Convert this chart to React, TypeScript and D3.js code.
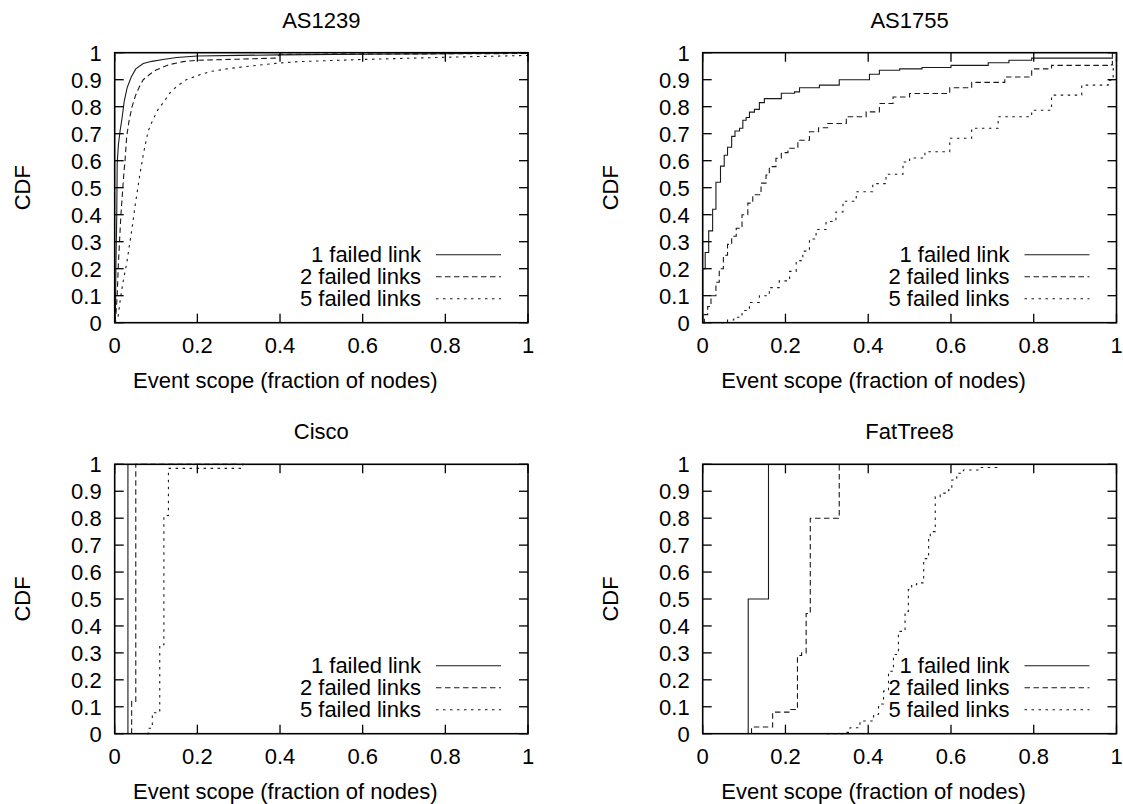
import React from "react";
import * as d3 from "d3";

type Pt = [number, number];

// ---------- data ----------
const panelTitles = ["AS1239", "AS1755", "Cisco", "FatTree8"];
const seriesLabels = ["1 failed link", "2 failed links", "5 failed links"];
const xTicks = [0, 0.2, 0.4, 0.6, 0.8, 1];
const xTickLabels = ["0", "0.2", "0.4", "0.6", "0.8", "1"];
const yTicks = [0, 0.1, 0.2, 0.3, 0.4, 0.5, 0.6, 0.7, 0.8, 0.9, 1];
const yTickLabels = ["0", "0.1", "0.2", "0.3", "0.4", "0.5", "0.6", "0.7", "0.8", "0.9", "1"];

const as1239One: Pt[] = [[0, 0], [0.002, 0.05], [0.003, 0.22], [0.005, 0.4], [0.006, 0.59], [0.009, 0.66], [0.013, 0.71], [0.018, 0.76], [0.023, 0.82], [0.03, 0.87], [0.04, 0.91], [0.051, 0.94], [0.069, 0.96], [0.09, 0.968], [0.117, 0.975], [0.15, 0.982], [0.2, 0.988], [0.3, 0.99], [0.4, 0.992], [0.6, 0.994], [0.8, 0.996], [1, 1]];
const as1239Two: Pt[] = [[0, 0], [0.003, 0.03], [0.006, 0.1], [0.009, 0.22], [0.015, 0.4], [0.022, 0.55], [0.025, 0.6], [0.029, 0.69], [0.035, 0.75], [0.042, 0.8], [0.05, 0.84], [0.06, 0.875], [0.069, 0.9], [0.085, 0.92], [0.1, 0.936], [0.13, 0.955], [0.165, 0.967], [0.2, 0.972], [0.3, 0.976], [0.39, 0.98], [0.4, 0.994], [0.6, 0.995], [1, 0.997]];
const as1239Five: Pt[] = [[0, 0], [0.008, 0.02], [0.013, 0.08], [0.02, 0.15], [0.029, 0.22], [0.035, 0.28], [0.041, 0.34], [0.05, 0.44], [0.061, 0.55], [0.07, 0.63], [0.081, 0.71], [0.092, 0.75], [0.105, 0.79], [0.12, 0.82], [0.133, 0.85], [0.15, 0.875], [0.173, 0.9], [0.2, 0.915], [0.23, 0.93], [0.28, 0.942], [0.326, 0.95], [0.4, 0.962], [0.447, 0.967], [0.6, 0.975], [0.8, 0.983], [1, 0.99]];

const as1755One: Pt[] = [[0, 0], [0, 0.2], [0.006, 0.26], [0.0145, 0.34], [0.024, 0.42], [0.032, 0.52], [0.043, 0.58], [0.052, 0.62], [0.06, 0.65], [0.07, 0.69], [0.078, 0.71], [0.089, 0.72], [0.097, 0.75], [0.105, 0.76], [0.113, 0.78], [0.125, 0.79], [0.137, 0.815], [0.149, 0.83], [0.19, 0.85], [0.222, 0.855], [0.234, 0.87], [0.282, 0.88], [0.33, 0.9], [0.403, 0.92], [0.427, 0.935], [0.476, 0.94], [0.53, 0.945], [0.6, 0.953], [0.69, 0.963], [0.74, 0.972], [0.795, 0.98], [0.99, 1], [1, 1]];
const as1755Two: Pt[] = [[0, 0], [0.004, 0.03], [0.012, 0.06], [0.02, 0.1], [0.032, 0.15], [0.04, 0.2], [0.05, 0.25], [0.06, 0.29], [0.07, 0.32], [0.081, 0.35], [0.095, 0.4], [0.109, 0.443], [0.121, 0.474], [0.141, 0.517], [0.153, 0.547], [0.161, 0.578], [0.177, 0.609], [0.19, 0.63], [0.206, 0.646], [0.23, 0.676], [0.258, 0.707], [0.28, 0.722], [0.302, 0.738], [0.347, 0.763], [0.395, 0.781], [0.427, 0.812], [0.46, 0.836], [0.5, 0.849], [0.597, 0.87], [0.65, 0.89], [0.73, 0.91], [0.795, 0.94], [0.843, 0.953], [0.98, 0.955], [0.99, 0.97], [1, 1]];
const as1755Five: Pt[] = [[0.045, 0], [0.06, 0.01], [0.075, 0.02], [0.095, 0.045], [0.113, 0.075], [0.137, 0.1], [0.161, 0.13], [0.185, 0.155], [0.21, 0.19], [0.226, 0.23], [0.242, 0.265], [0.258, 0.31], [0.274, 0.345], [0.298, 0.375], [0.322, 0.41], [0.339, 0.45], [0.371, 0.485], [0.411, 0.515], [0.443, 0.55], [0.484, 0.595], [0.5, 0.61], [0.537, 0.633], [0.597, 0.683], [0.65, 0.72], [0.714, 0.763], [0.795, 0.787], [0.843, 0.843], [0.916, 0.88], [0.98, 0.898], [0.992, 0.94], [1, 1]];

const ciscoOne: Pt[] = [[0.032, 0], [0.032, 1]];
const ciscoTwo: Pt[] = [[0.041, 0], [0.041, 0.12], [0.051, 1], [0.3, 1]];
const ciscoFive: Pt[] = [[0.078, 0], [0.081, 0.02], [0.091, 0.078], [0.109, 0.33], [0.119, 0.81], [0.13, 0.985], [0.31, 1], [0.32, 1]];

const fatOne: Pt[] = [[0.11, 0], [0.11, 0.5], [0.159, 1]];
const fatTwo: Pt[] = [[0.118, 0], [0.118, 0.025], [0.169, 0.08], [0.211, 0.09], [0.229, 0.29], [0.239, 0.3], [0.25, 0.446], [0.26, 0.8], [0.328, 0.81], [0.33, 1]];
const fatFive: Pt[] = [[0.3, 0], [0.34, 0.005], [0.356, 0.022], [0.38, 0.047], [0.413, 0.072], [0.425, 0.11], [0.437, 0.158], [0.449, 0.232], [0.461, 0.294], [0.473, 0.38], [0.489, 0.454], [0.497, 0.535], [0.505, 0.553], [0.517, 0.56], [0.534, 0.65], [0.546, 0.726], [0.55, 0.75], [0.562, 0.88], [0.574, 0.893], [0.594, 0.905], [0.602, 0.942], [0.614, 0.967], [0.63, 0.979], [0.671, 0.988], [0.711, 1]];

const panelSeries: Pt[][][] = [
  [as1239One, as1239Two, as1239Five],
  [as1755One, as1755Two, as1755Five],
  [ciscoOne, ciscoTwo, ciscoFive],
  [fatOne, fatTwo, fatFive],
];
const panelStep = [false, true, true, true];

// ---------- layout / style ----------
const FONT = "'Liberation Sans', Arial, Helvetica, sans-serif";
const FS = 22;
const frames = [
  { l: 114.7, r: 528, t: 52.7, b: 322.7 },
  { l: 702.7, r: 1116.5, t: 52.7, b: 322.7 },
  { l: 114.7, r: 528, t: 464.3, b: 733.7 },
  { l: 702.7, r: 1116.5, t: 464.3, b: 733.7 },
];
const dashes = [null, "5.5,3.5", "2.5,4.5"];
const TICK = 9;

function Panel({ idx }: { idx: number }) {
  const f = frames[idx];
  const x = d3.scaleLinear().domain([0, 1]).range([f.l, f.r]);
  const y = d3.scaleLinear().domain([0, 1]).range([f.b, f.t]);
  const line = d3
    .line<Pt>()
    .x((d) => x(d[0]))
    .y((d) => y(d[1]))
    .curve(panelStep[idx] ? d3.curveStepAfter : d3.curveLinear);
  const cx = (f.l + f.r) / 2;
  const cy = (f.t + f.b) / 2;
  const legendRight = f.r - 107;
  const lineX1 = f.r - 92;
  const lineX2 = f.r - 27;
  const legendY = [f.b - 68, f.b - 46, f.b - 24];
  return (
    <g>
      <text x={cx} y={f.t - 25} textAnchor="middle" fontSize={FS} fontFamily={FONT}>
        {panelTitles[idx]}
      </text>
      {panelSeries[idx].map((s, i) => (
        <path
          key={i}
          d={line(s) || ""}
          fill="none"
          stroke="#1a1a1a"
          strokeWidth={1.1}
          strokeDasharray={dashes[i] || undefined}
        />
      ))}
      {seriesLabels.map((lab, i) => (
        <g key={lab}>
          <text x={legendRight} y={legendY[i] + 7.5} textAnchor="end" fontSize={FS} fontFamily={FONT}>
            {lab}
          </text>
          <line
            x1={lineX1}
            x2={lineX2}
            y1={legendY[i]}
            y2={legendY[i]}
            stroke="#1a1a1a"
            strokeWidth={1.1}
            strokeDasharray={dashes[i] || undefined}
          />
        </g>
      ))}
      {xTicks.map((t, i) => (
        <g key={"x" + i}>
          <line x1={x(t)} x2={x(t)} y1={f.b} y2={f.b - TICK} stroke="#000" strokeWidth={1.3} />
          <line x1={x(t)} x2={x(t)} y1={f.t} y2={f.t + TICK} stroke="#000" strokeWidth={1.3} />
          <text x={x(t)} y={f.b + 30.5} textAnchor="middle" fontSize={FS} fontFamily={FONT}>
            {xTickLabels[i]}
          </text>
        </g>
      ))}
      {yTicks.map((t, i) => (
        <g key={"y" + i}>
          <line x1={f.l} x2={f.l + TICK} y1={y(t)} y2={y(t)} stroke="#000" strokeWidth={1.3} />
          <line x1={f.r} x2={f.r - TICK} y1={y(t)} y2={y(t)} stroke="#000" strokeWidth={1.3} />
          <text x={f.l - 13} y={y(t) + 8} textAnchor="end" fontSize={FS} fontFamily={FONT}>
            {yTickLabels[i]}
          </text>
        </g>
      ))}
      <rect x={f.l} y={f.t} width={f.r - f.l} height={f.b - f.t} fill="none" stroke="#000" strokeWidth={1.6} />
      <text x={cx - 36} y={f.b + 65.5} textAnchor="middle" fontSize={FS} fontFamily={FONT}>
        Event scope (fraction of nodes)
      </text>
      <text
        transform={`translate(${f.l - 85},${cy}) rotate(-90)`}
        textAnchor="middle"
        fontSize={FS}
        fontFamily={FONT}
      >
        CDF
      </text>
    </g>
  );
}

export default function App() {
  return (
    <svg
      width={1123}
      height={804}
      style={{ position: "absolute", left: 0, top: 0, background: "#fff" }}
    >
      {[0, 1, 2, 3].map((i) => (
        <Panel key={i} idx={i} />
      ))}
    </svg>
  );
}
